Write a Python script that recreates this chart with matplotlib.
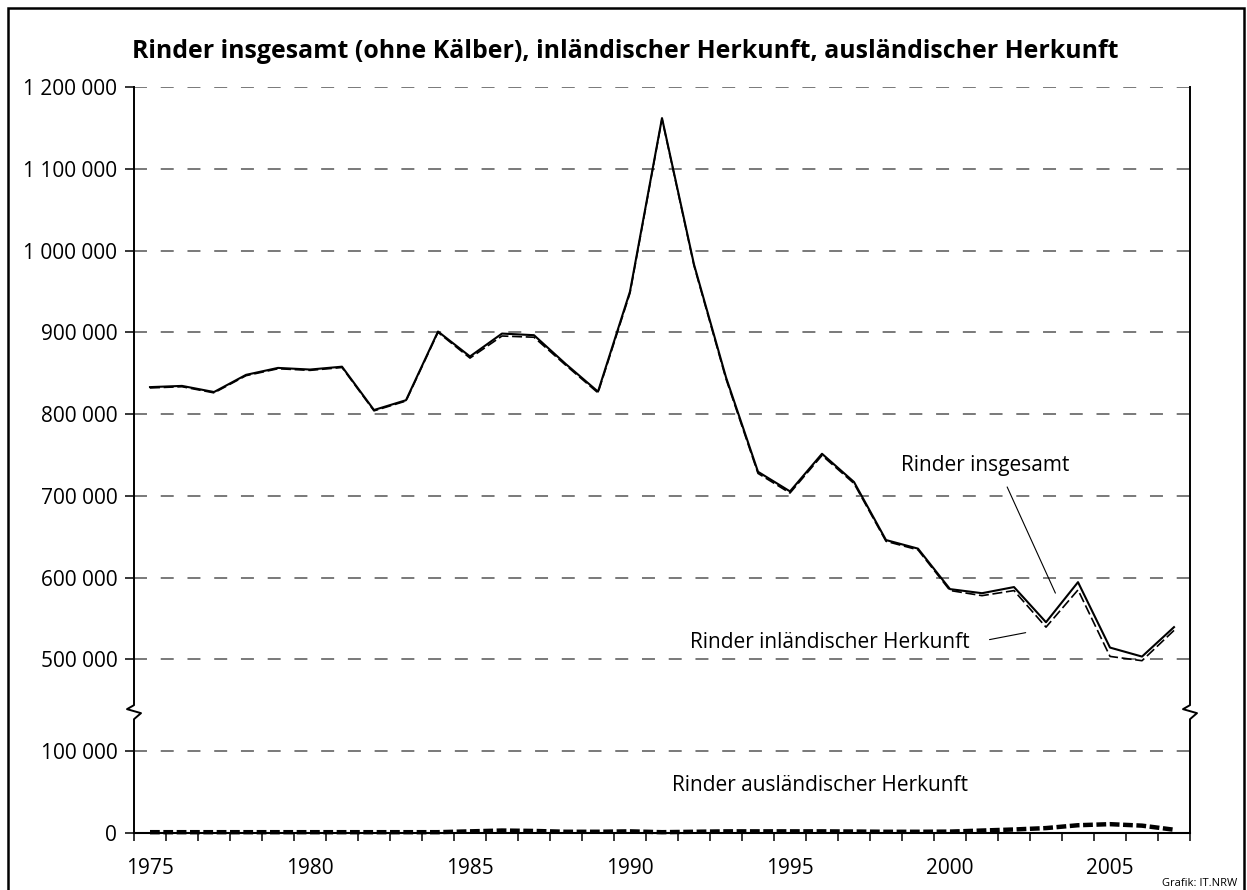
import numpy as np
import matplotlib
matplotlib.use("Agg")
import matplotlib.pyplot as plt
from matplotlib.patches import Rectangle
from matplotlib.lines import Line2D

plt.rcParams['font.family'] = ['Open Sans', 'DejaVu Sans']

# Daten
years = list(range(1975, 2008))
insgesamt = [833000, 834500, 827000, 848000, 856500, 854500, 858000, 805000,
             817000, 901000, 870500, 898500, 896500, 861000, 827500, 950000,
             1162000, 983000, 845000, 729500, 705500, 751500, 717000, 646000,
             635500, 586000, 581000, 588500, 545500, 594500, 514500, 503500,
             539500]
inland = [832000, 833500, 826000, 847000, 855500, 853500, 857000, 804000,
          816000, 900000, 868500, 895500, 894000, 859500, 826000, 948000,
          1161000, 981500, 843000, 727500, 703500, 749500, 715200, 644500,
          634000, 584300, 578000, 584200, 539500, 585000, 503700, 494500,
          535500]
ausland = [1000, 1000, 1000, 1000, 1000, 1000, 1000, 1000, 1000, 1000, 2000,
           3000, 2500, 1500, 1500, 2000, 1000, 1500, 2000, 2000, 2000, 2000,
           1800, 1500, 1500, 1700, 3000, 4300, 6000, 9500, 10800, 9000, 4000]

y_ticks = [0, 100000, 500000, 600000, 700000, 800000, 900000, 1000000,
           1100000, 1200000]
x_labels = [1975, 1980, 1985, 1990, 1995, 2000, 2005]

title = "Rinder insgesamt (ohne Kälber), inländischer Herkunft, ausländischer Herkunft"

# gebrochene y-Achse: 0-100000 und 500000-1200000
gap = 91.7 / 81.7
src = [0, 100000, 500000, 1200000]
dst = [0, 1, 1 + gap, 1 + gap + 7]


def fwd(v):
    return np.interp(v, src, dst)


def inv(t):
    return np.interp(t, dst, src)


fs = 15

fig = plt.figure(figsize=(12.47, 8.9), dpi=100)
ax = fig.add_axes([134 / 1247, 57 / 890, 1056 / 1247, 746 / 890])
ax.set_yscale('function', functions=(fwd, inv))
ax.set_ylim(0, 1200000)
ax.set_xlim(1974.5, 2007.5)

ax.plot(years, ausland, color='black', lw=3.2, linestyle=(0, (2.2, 0.8)),
        solid_capstyle='butt', zorder=3, clip_on=False)
ax.plot(years, inland, color='black', lw=1.2, linestyle=(0, (6, 2.2)), zorder=3)
ax.plot(years, insgesamt, color='black', lw=1.5, zorder=4)

# Achsen
ax.set_yticks(y_ticks)
ax.set_yticklabels([f"{v:,.0f}".replace(",", " ") for v in y_ticks])
ax.set_xticks(x_labels)
ax.set_xticks(np.arange(1974.5, 2008, 1), minor=True)
ax.tick_params(axis='x', which='major', length=0, pad=18, labelsize=fs)
ax.tick_params(axis='x', which='minor', length=6, width=1.1, direction='out')
ax.tick_params(axis='y', which='both', length=6.2, width=1.1, pad=5.8,
               labelsize=fs)
ax.yaxis.grid(True, color='#555555', lw=1.1, linestyle=(0, (8.5, 9)))
ax.set_axisbelow(True)

for s in ['left', 'right', 'top']:
    ax.spines[s].set_visible(False)
ax.spines['bottom'].set_linewidth(1.5)

# Achsenlinien mit Bruchzeichen
brk = 0.162
dx, dy = 1 / 1056, 1 / 746
for xs in (0, 1):
    xs_pts = [xs, xs, xs + 7 * dx, xs - 7 * dx, xs, xs]
    ys_pts = [0, brk - 7 * dy, brk - 1 * dy, brk + 3 * dy, brk + 7 * dy, 1]
    ax.add_line(Line2D(xs_pts, ys_pts, transform=ax.transAxes, color='black',
                       lw=1.4, clip_on=False, zorder=5))

# Beschriftungen
ax.text(2001.1, 737000, "Rinder insgesamt", fontsize=fs, ha='center', va='center')
ax.annotate("", xy=(2003.33, 578000), xytext=(2001.75, 714000),
            arrowprops=dict(arrowstyle='-', color='black', lw=0.8))
ax.text(1996.25, 521000, "Rinder inländischer Herkunft", fontsize=fs,
        ha='center', va='center')
ax.annotate("", xy=(2002.45, 533400), xytext=(2001.15, 523600),
            arrowprops=dict(arrowstyle='-', color='black', lw=0.8))
ax.text(1995.95, 57700, "Rinder ausländischer Herkunft", fontsize=fs,
        ha='center', va='center')

fig.text(132 / 1247, 1 - 52 / 890, title, fontsize=17.9, fontweight='bold',
         ha='left', va='center')
fig.text(1237 / 1247, 1 - 884 / 890, "Grafik: IT.NRW", fontsize=8,
         ha='right', va='center')

fig.patches.append(Rectangle((8 / 1247, -0.02), (1244 - 8) / 1247, 1.02 - 8 / 890,
                             transform=fig.transFigure, fill=False,
                             edgecolor='black', lw=1.8))

fig.savefig("out.png", dpi=100)
